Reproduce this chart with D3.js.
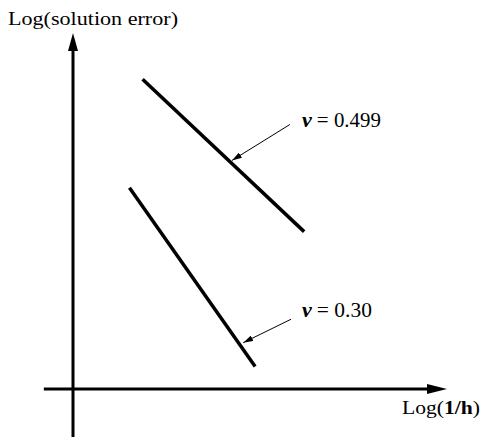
<!DOCTYPE html>
<html lang="en">
<head>
<meta charset="UTF-8">
<script src="https://d3js.org/d3.v7.min.js"></script>
<style>
    body { margin: 0; background: white; }
    text, tspan { font-family: "Liberation Serif", "DejaVu Serif", serif; fill: black; }
</style>
</head>
<body>
<script>
    // values (arbitrary log units, origin at axis crossing)
    var logInvH_499 = [1.86, 6.18];
    var logErr_499 = [8.70, 4.42];
    var logInvH_030 = [1.51, 4.87];
    var logErr_030 = [5.65, 0.63];
    var symbols = ["ν", "ν"];
    var values = ["= 0.499", "= 0.30"];
    // pointer arrows: [start, tip] and label anchor
    var pointerX = [[5.80, 4.25], [5.83, 4.55]];
    var pointerY = [[7.43, 6.42], [1.96, 1.30]];
    var labelX = [6.12, 6.12];
    var labelY = [7.37, 2.03];

    var width = 480, height = 437;

    var svg = d3.select("body").append("svg")
        .attr("width", width)
        .attr("height", height);

    var x = d3.scaleLinear().domain([0, 10]).range([73, 447]);
    var y = d3.scaleLinear().domain([0, 10]).range([389, 33]);

    // axes
    svg.append("line")
        .attr("x1", x(-0.78)).attr("x2", x(9.5))
        .attr("y1", y(0)).attr("y2", y(0))
        .attr("stroke", "black").attr("stroke-width", 3);
    svg.append("line")
        .attr("x1", x(0)).attr("x2", x(0))
        .attr("y1", y(-1.4)).attr("y2", y(9.5))
        .attr("stroke", "black").attr("stroke-width", 3);

    // big arrowheads
    svg.append("path")
        .attr("d", `M${x(10)},${y(0)} L${x(10) - 20},${y(0) - 5} L${x(10) - 20},${y(0) + 5} Z`)
        .attr("fill", "black");
    svg.append("path")
        .attr("d", `M${x(0)},${y(10)} L${x(0) - 5},${y(10) + 18} L${x(0) + 5},${y(10) + 18} Z`)
        .attr("fill", "black");

    // axis titles
    svg.append("text")
        .attr("x", 8).attr("y", 25)
        .attr("font-size", 18)
        .attr("textLength", 170).attr("lengthAdjust", "spacingAndGlyphs")
        .text("Log(solution error)");

    var xt = svg.append("text")
        .attr("x", 402).attr("y", 414)
        .attr("font-size", 18)
        .attr("textLength", 78).attr("lengthAdjust", "spacingAndGlyphs");
    xt.append("tspan").text("Log(");
    xt.append("tspan").attr("font-weight", "bold").text("1/h");
    xt.append("tspan").text(")");

    // the two error lines
    var line = d3.line().x(d => x(d[0])).y(d => y(d[1]));
    var lines = [d3.zip(logInvH_499, logErr_499), d3.zip(logInvH_030, logErr_030)];

    svg.selectAll(".err")
        .data(lines)
        .enter()
        .append("path")
            .attr("class", "err")
            .attr("d", line)
            .attr("fill", "none")
            .attr("stroke", "black")
            .attr("stroke-width", 3.5);

    // pointer arrows
    svg.append("defs").append("marker")
        .attr("id", "tip")
        .attr("viewBox", "0 0 10 6")
        .attr("refX", 10).attr("refY", 3)
        .attr("markerWidth", 10).attr("markerHeight", 6)
        .attr("markerUnits", "userSpaceOnUse")
        .attr("orient", "auto")
        .append("path")
            .attr("d", "M0,0 L10,3 L0,6 Z")
            .attr("fill", "black");

    svg.selectAll(".ptr")
        .data(pointerX)
        .enter()
        .append("line")
            .attr("class", "ptr")
            .attr("x1", d => x(d[0])).attr("x2", d => x(d[1]))
            .attr("y1", (d, i) => y(pointerY[i][0])).attr("y2", (d, i) => y(pointerY[i][1]))
            .attr("stroke", "black").attr("stroke-width", 1)
            .attr("marker-end", "url(#tip)");

    // labels: symbol and value as separate texts
    svg.selectAll(".sym")
        .data(symbols)
        .enter()
        .append("text")
            .attr("class", "sym")
            .attr("x", (d, i) => x(labelX[i]))
            .attr("y", (d, i) => y(labelY[i]))
            .attr("font-size", 22)
            .attr("font-style", "italic")
            .attr("font-weight", "bold")
            .text(d => d);

    svg.selectAll(".val")
        .data(values)
        .enter()
        .append("text")
            .attr("class", "val")
            .attr("x", (d, i) => x(labelX[i]) + 15)
            .attr("y", (d, i) => y(labelY[i]))
            .attr("font-size", 20)
            .attr("textLength", (d, i) => i == 0 ? 64 : 55)
            .attr("lengthAdjust", "spacingAndGlyphs")
            .text(d => d);
</script>
</body>
</html>
